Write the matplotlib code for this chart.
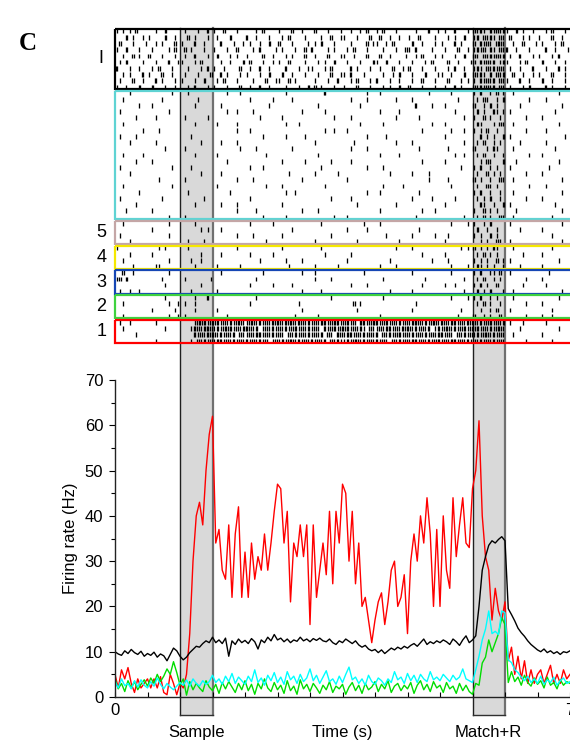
import numpy as np
import matplotlib
matplotlib.use('Agg')
import matplotlib.pyplot as plt
from matplotlib.patches import Rectangle
from matplotlib.lines import Line2D
from matplotlib.transforms import blended_transform_factory

plt.rcParams['font.family'] = ['Liberation Sans', 'DejaVu Sans']

# ---- firing rates (Hz), one value every 0.05 s from 0 to 7 s ----
dt = 0.05
rate_red = [5, 2, 6, 4, 6.5, 3, 1, 4, 2, 3,
            4, 2, 4, 2, 4.5, 1, 0.5, 5, 3, 0.5,
            3, 2, 5, 14, 30, 40, 43, 38, 50, 58,
            62, 34, 37, 28, 26, 38, 22, 36, 42, 22,
            32, 22, 34, 26, 31, 28, 36, 28, 34, 41,
            47, 46, 34, 41, 21, 34, 31, 38, 31, 38,
            16, 38, 22, 28, 34, 27, 41, 25, 41, 34,
            47, 45, 30, 41, 25, 34, 20, 22, 17, 12,
            17, 21, 23, 16, 21, 28, 30, 20, 22, 27,
            14, 30, 36, 30, 40, 34, 44, 36, 20, 37,
            20, 40, 28, 24, 44, 31, 38, 44, 34, 33,
            46, 50, 61, 40, 31, 28, 17, 24, 19, 17,
            21, 8, 11, 5, 9, 4, 8, 3, 6, 3,
            5, 6, 3, 5, 7, 3, 5, 3, 6, 4, 5]
rate_black = [10.0, 9.5, 9.2, 10.2, 9.6, 10.5, 9.8, 9.4, 10.1, 9.0,
              9.6, 9.2, 9.9, 8.8, 9.5, 9.1, 8.0, 9.4, 10.8, 10.2,
              9.0, 8.2, 8.8, 9.8, 10.5, 11.2, 11.0, 11.8, 12.4, 12.0,
              13.2, 12.0, 12.6, 11.8, 13.0, 9.0, 12.4, 11.6, 12.8, 12.0,
              12.5, 11.8, 12.9, 12.2, 10.6, 12.6, 12.0, 13.2, 12.4, 13.8,
              12.6, 13.0, 12.2, 12.8, 12.0, 12.6, 12.3, 13.2, 12.4, 12.8,
              12.2, 12.9, 12.5, 13.0, 12.4, 12.2, 12.8, 12.0, 11.6, 12.4,
              12.0, 12.8, 12.3, 11.8, 12.4, 11.5, 11.0, 11.4, 10.6, 10.2,
              10.5, 9.8, 10.4, 9.6, 10.2, 10.8, 10.4, 11.0, 10.6, 11.2,
              10.8, 11.4, 11.8, 11.2, 12.0, 12.8, 11.6, 12.2, 11.8, 12.4,
              12.0, 12.6, 12.2, 11.6, 12.8, 12.2, 11.4, 12.6, 13.5, 12.0,
              12.6, 13.5, 20.0, 28.0, 31.0, 33.5, 34.5, 34.0, 34.8, 35.4,
              34.5, 19.5, 18.2, 16.8, 15.2, 14.2, 13.4, 12.4, 11.6, 11.0,
              10.4, 10.0, 10.6, 9.8, 10.2, 9.6, 10.0, 9.4, 10.0, 9.8, 10.2]
rate_cyan = [3.5, 2.0, 4.0, 2.5, 3.0, 1.8, 3.6, 2.2, 3.8, 2.6,
             2.0, 3.4, 2.4, 4.2, 2.8, 1.8, 3.0, 2.2, 1.6, 2.4,
             3.2, 2.6, 3.8, 2.4, 4.0, 3.0, 2.4, 3.6, 2.8, 3.4,
             4.8, 3.2, 4.0, 2.8, 4.6, 3.4, 5.2, 3.0, 4.4, 3.6,
             2.8, 4.6, 3.4, 6.0, 3.2, 4.2, 2.6, 4.8, 3.6, 5.4,
             3.2, 4.4, 2.8, 5.6, 3.8, 4.6, 3.0, 5.0, 3.4, 4.2,
             6.2, 3.6, 4.8, 3.0, 4.4, 5.8, 3.4, 4.0, 2.8, 4.6,
             3.2, 5.0, 6.6, 3.8, 4.4, 3.0, 4.0, 2.6, 4.8, 3.4,
             2.8, 4.2, 3.6, 2.6, 4.0, 3.2, 5.6, 3.8, 4.4, 3.0,
             5.2, 3.6, 4.8, 3.2, 5.0, 4.0, 3.4, 5.6, 3.8, 4.4,
             3.6, 5.0, 4.2, 3.4, 4.8, 3.8, 4.4, 6.2, 4.0, 3.6,
             3.2, 6.0, 9.0, 12.6, 15.0, 19.0, 14.0, 14.5, 13.8, 19.0,
             18.6, 8.2, 7.6, 6.0, 5.4, 4.4, 3.6, 4.6, 3.2, 4.0,
             3.0, 4.6, 2.8, 3.8, 3.2, 4.4, 2.6, 3.6, 4.2, 3.0, 3.4]
rate_green = [4.0, 1.8, 3.0, 1.2, 3.6, 2.0, 3.4, 1.6, 2.8, 3.8,
              2.4, 4.2, 3.0, 5.0, 3.4, 4.6, 6.2, 5.0, 7.8, 5.4,
              2.6, 4.0, 0.4, 3.4, 1.6, 3.0, 2.0, 1.2, 3.6, 2.2,
              1.4, 2.8, 0.8, 3.2, 1.8, 3.4, 2.2, 1.0, 3.0, 1.6,
              3.6, 1.4, 2.8, 0.6, 3.0, 1.8, 4.0, 2.0, 1.2, 3.2,
              1.6, 2.6, 0.8, 3.6, 1.4, 2.4, 0.6, 3.8, 1.8, 2.8,
              1.2, 3.0, 2.0, 0.8, 2.6, 1.6, 3.4, 1.0, 2.4, 1.8,
              2.8, 0.6, 2.2, 3.2, 1.4, 2.6, 0.8, 3.0, 1.6, 2.2,
              3.4, 1.2, 2.8, 1.8, 3.6, 1.0, 2.4, 3.0, 1.4, 2.6,
              1.8, 3.2, 0.8, 2.6, 3.6, 1.6, 2.8, 1.2, 3.4, 2.0,
              2.6, 1.0, 3.2, 1.8, 2.4, 0.8, 3.0, 1.4, 2.6, 1.2,
              0.6, 3.0, 2.6, 7.5, 8.8, 12.6, 10.0, 12.0, 14.0, 17.5,
              16.0, 3.2, 5.6, 3.4, 4.4, 2.6, 4.8, 3.2, 2.4, 4.2,
              2.8, 3.6, 2.0, 4.4, 2.6, 3.2, 1.8, 3.8, 2.6, 3.4, 3.0]

# ---- raster: one string per trial, one char per 0.05 s bin (spike count) ----
raster_I = [
    "1.1.1.2... ..1..2.... .1...1..2. 1..2...1.. ...1.2.... 1...2..1.. .2...1...1 ..1..1.2.. 1.2...1... ..1...2..1 .1..2...1. 2121.21212 1..2.1..1. ..1.2...1.",
    "...2.1..1. 1....2..1. ..2.1...1. .1...2.... 2..1...1.. .1.2....1. ...1..2..1 1...1...2. .2..1..1.. 1..2....1. ..1.1..2.. 12.2121.21 .2...1.1.. 1...2..1..",
    ".2...1...1 ..1.1...2. 1...2..1.. ..2...1..1 .1..1..2.. 2...1....1 .1.2...1.. ..1....2.1 1..1.2.... .2..1...1. 1...2.1... 2.2121.221 ..1..2...1 .1...1.2..",
    "1..2...1.. .1....1.2. .2.1...1.. 1...1..2.. ..1.2....1 .1...1..2. 2....1.1.. .1.2...1.. ..1...1..2 1.2....1.. .1...2..1. 1212.21.21 2..1...1.. ..2..1...1",
    "..1..2.1.. 2...1...1. .1..2...1. .2...1.1.. 1....2..1. ..1.1...2. .1...2...1 1..1...2.. .2..1....1 ..1.2...1. 1...1..2.. 21.2121212 .1..2...1. 1...1.2...",
    ".1.2....1. ..1...2..1 1...1.2... ..1..1...2 .2...1..1. 1..2....1. ..1.1..2.. .1...1...2 1..2...1.. .1...1.2.. ..2..1...1 2.21212.12 1...1.2... .2...1..1.",
    "2...1..1.. .1.2...1.. ..1...1.2. 1..1....2. .1..2..1.. ..2...1..1 1...1.2... ..2.1...1. .1...2..1. 2...1...1. ..1.2..1.. 121.212121 .1..1...2. ..1...2.1.",
    "..1.1...2. 1...2..1.. .1...1...2 ..2.1...1. 1...1..2.. .2..1...1. ..1...2..1 1.2...1... ..1..1.2.. .1...2...1 1..1...2.. 2121.2.212 ..2..1..1. 1...2...1.",
    ".1...2..1. ..2.1...1. 1...1..2.. .1.2...1.. ..1...2..1 1..2.1.... .1...1..2. ..1.2...1. 2...1..1.. .1..2...1. ..2...1.1. 1.21212.21 1...2..1.. .2..1...1.",
    "1..1...2.. .2...1..1. ..1.2...1. 1...1...2. .1..2..1.. ..1...1..2 .2.1...1.. 1...2...1. ..1.1..2.. 2...1...1. .1..2.1... 2121212.21 .1...1.2.. ..2.1...1.",
]
raster_cyan = [
    "....1..... .......1.. ..1....... ....1...1. .......... ..1....... ....2..... .......1.. .1........ ......1... ...1...... 1.2..1.2.1 ..1....... ......1...",
    "..1....... ....1..... .....1.... .......... .1......1. ....1..... .......... ..1....1.. ......1... .1........ .....1.... .1.21..1.2 .......1.. ..1.......",
    ".......1.. .1........ ....1..... ..1....... .......1.. .......... ..1....... .....1.... .......... ..2....1.. .1........ 2..1.2.1.. ....1..... .......1..",
    ".1........ ......1... .......... ....1..1.. ..1....... .......1.. ....1..... .......... .1.....1.. .......... ....1..... .2.1..21.1 .1........ .....1....",
    "......1... ..1....... .1......1. .......... ....1..... .1........ .......1.. ..1....... ......1... ...1...... .......1.. 1..2.1..1. ......1... .1........",
    "..1....... .......... ....1..... .1.....1.. .......... ..1...1... .......... .....1.... ..1....... .......1.. .1........ .21...1.21 ..1....... ......1...",
    "........1. ...1...... .......... .......1.. .1........ .......... ....1..1.. .1........ .......... ....1..... ...1...1.. 1.1.2..1.. ......1... ..1.......",
    ".1....1... .......... ...1...... .......... .....1.... ..1.....1. .......... .......1.. ...1...... .......... .1........ ..2.1.1..2 .1........ ........1.",
    "....1..... ..1....... ......1... ..1....1.. .......... .......... .1........ ...1...... ......1... .1........ .......1.. .1.2..1.1. ....1..... ..1.......",
    ".......... .....1.... .1........ ........1. ...1...... ....1..... .......... ..1....1.. .......... ...1...... ..1....... 2...1.21.. ..1....... .....1....",
    "..1.....1. .......... ....1..... .1........ ......1... .......... ..1....... .......... .1.....1.. .......... ....1..1.. .1.2..1..1 .......1.. .1........",
    "......1... .1........ .......... ....1..... .......... .1......1. ......1... ..1....... .......... ....1..... .1........ ..1.21...2 ...1...... ......1...",
    ".1........ .......1.. ...1...... .......... .1...1.... .......... ...1...... .......1.. ..1....... .......... ......1... 1.2..1.1.. .1........ ...1......",
    "....1..... .......... ......1... ..1....... .......... ...1...... .1......1. .......... ....1..... .1....1... .......... .1..2.1.1. ......1... .1........",
    ".......... ...1...... .1........ .......1.. ..1....... .......1.. .......... .1........ .......... ......1... ..1....... 2.1..1..21 ..1....... .......1..",
    "..1....... .......1.. .......... .1........ ......1... .1........ ....1..... .......... ..1.....1. .......... ...1...... .1..21.1.. .......1.. ..1.......",
    ".......1.. .......... ..1....... .....1.... .......... ..1..1.... .......... .......1.. .1........ ...1...... .......... 1.2..1..1. ..1....... .......1..",
    ".1........ ....1..... .......1.. .......... .1........ .......... ......1... ..1....... .......... .1.....1.. ....1..... .1.1.2..1. ......1... .1........",
    "......1... .......... ....1..... ..1....1.. .......... .1........ .......... ....1..... ......1... .......... .1........ ..21..1..2 .1........ .....1....",
    "...1...... .1........ .......... .......1.. ...1...... .......1.. ..1....... .......... .1........ ....1...1. .......... 1..2.1.1.. ...1...... .......1..",
    ".......... ......1... .1........ .......... .....1.... ..1....... .......1.. .1........ .......... ..1....... .......1.. .1.2.1..21 ..1....... ....1.....",
]
raster_5 = [
    "..1....... ......1... ....1..... .......... .1......1. .......... ...1...... ......1... .1........ .......... ...1....1. 1..1.2.... .1........ .......1..",
    ".......... .1........ ......1.1. ..1....... .......... ....1..... .......... .1.....1.. .......... ...1...... .......... .2..1..1.. ....1..... .1........",
    ".1........ ......1... .......... .......1.. ..1....... .1........ ......1... .......... ...1...... .1......1. ..1....... 1.1..2.1.. .......... ....1.....",
    "....1..... .......... ..1....1.. .......... ......1... .......... .1........ ....1..... .......1.. .......... .1........ ..1.1..21. .1........ .......1..",
]
raster_4 = [
    "1......... ...1.1.... ..1....... .......1.. .......... .1........ ...1...... .......... ......1... .1........ ......1.1. 2.1.1.21.. ..1....... ....1.....",
    "....1..... .1........ ......1... ..1....... .1......1. .......... ....1..... ..1....... .......... ....1..... .1........ .1.2.1.1.. .....1.... .1........",
    "..1....... ......1... ...1..1... .......... ....1..... ..1....1.. .......... .1........ ....1..... .......1.. ..1....... 1.1.1..2.1 .1........ ......1...",
    ".....1.... ..11...... ....1..... .1......1. .......... ...1...... .1......1. .......... .1....1... .......... ...1....1. .21.1.1..1 ....1..... .1........",
]
raster_3 = [
    "..2..1.... ......1... .......... ..1....... .....1.... .......1.. .1........ ......1... .......... .1........ ...1...... 1.2..11.2. .1........ ...1......",
    "12.2...... ....1..... .1.......1 .......... ...1...... .......... .1....1... .......... ..1....... .....1.... .......1.. .1.2..1.1. ......1... .1........",
    ".......... .....1.... ......1... .......... .1......1. ....1..... .......... ..1....1.. .......... ....1..... .1..1..... 1.2.1..2.. .....1.... ..1.......",
    ".1..1..1.. .......... ...1...... .1........ .......... .......1.. ...1...... .......... ....1..... .1........ .......1.. .2.1.2...1 ..1....... .......1..",
]
raster_2 = [
    ".......... .....1.... ....1...2. .......... ...1...... .......... ......1... .......... ..1....... .......... ...1....1. 1.2..1.1.. ..1....... ......1...",
    "..1....... ......1..1 .1..1..... .......... .1........ ......1... .......... ...2.1.... .......... ..1....... .......... .1.2.1..1. ......1... .1........",
    ".......... .1......1. ....1..... .1........ .......... .......1.. .......... ....1..... .......... .1........ ......1... ..1..1.2.. .1........ ....1.....",
    "..1....... ......1..1 .1........ ....1..... .......... .....1.... ..1....... .......... .1........ .......... .....1.... 2..1.1..2. ......1... .1..1.....",
]
raster_1 = [
    ".1..1..... ..1....... ....122212 2212121221 1221212122 2122212212 1212212221 2212.22122 2122121212 1222121221 2212212122 2121221212 .1...1.... ..1.......",
    "..1....... .....1.... ...1221222 1212221212 2212.12121 2121221212 121.212212 2212121.21 1212212122 2121212.12 1221212212 2212121221 ....1..... ......1...",
    "......1... .......... ....212122 2121212.21 1212212121 21.2121212 1212.21.22 1221212121 2.21212212 1212121212 2121.21212 1212212121 ..1....... .1........",
    ".......... ..1....... ...1.21212 1221212121 2121212.12 1212212121 21212.2121 1212212121 2121.21212 1221212122 1212212121 2121212121 ......1... ....1.....",
]

group_rows = [raster_I, raster_cyan, raster_5, raster_4, raster_3, raster_2, raster_1]
group_labels = ['I', '', '5', '4', '3', '2', '1']
group_colors = ['black', '#5fd3d3', '#c4a6a6', '#f5e800', '#1646b4', '#3fd23f', '#ff0000']

epochs = [(1.0, 1.5), (5.5, 6.0)]
epoch_labels = ['Sample', 'Match+R']

W, H = 570, 746
fig = plt.figure(figsize=(W / 100, H / 100), dpi=100)


def px_axes(x0, y0, x1, y1):
    return fig.add_axes([x0 / W, 1 - y1 / H, (x1 - x0) / W, (y1 - y0) / H])


ax_r = px_axes(115, 28, 570, 344)
ax_f = px_axes(115, 380, 570, 697)

# shaded task epochs spanning both panels
trans = blended_transform_factory(ax_f.transData, fig.transFigure)
y_top, y_bot = 1 - 28 / H, 1 - 715 / H
for a, b in epochs:
    fig.add_artist(Rectangle((a, y_bot), b - a, y_top - y_bot, transform=trans,
                             facecolor='#d9d9d9', edgecolor='none', zorder=-3))
    fig.add_artist(Line2D([a, a], [y_bot, y_top], transform=trans, color='#202020', lw=1.0, zorder=-2))
    fig.add_artist(Line2D([b, b], [y_bot, y_top], transform=trans, color='#707070', lw=1.6, zorder=-2))
    fig.add_artist(Line2D([a, b], [y_bot, y_bot], transform=trans, color='#303030', lw=1.0, zorder=-2))

# ---- raster ----
n_rows = sum(len(g) for g in group_rows)
ax_r.set_xlim(0, 7)
ax_r.set_ylim(n_rows, 0)
ax_r.axis('off')

row = 0
for rows, lab, col in zip(group_rows, group_labels, group_colors):
    start = row
    for s in rows:
        s = s.replace(' ', '')[:140].ljust(140, '.')
        times = []
        for b, ch in enumerate(s):
            if ch.isdigit() and ch != '0':
                n = int(ch)
                times += [b * dt + (k + 0.5) * dt / n for k in range(n)]
        ax_r.vlines(times, row + 0.12, row + 0.88, colors='black', lw=0.95)
        row += 1
    ax_r.add_patch(Rectangle((0, start + 0.12), 7.5, len(rows) - 0.24, fill=False,
                             edgecolor=col, lw=1.6, clip_on=False, zorder=3))
    if lab:
        ax_r.text(-0.21, (start + row) / 2, lab, ha='center', va='center',
                  fontsize=13, clip_on=False)

# ---- firing rates ----
t = np.arange(len(rate_red)) * dt
ax_f.set_facecolor('none')
ax_f.plot(t, rate_red, color='#ff0000', lw=1.0)
ax_f.plot(t, rate_green, color='#00dd00', lw=1.0)
ax_f.plot(t, rate_cyan, color='#00ffff', lw=1.0)
ax_f.plot(t, rate_black, color='black', lw=1.0)

ax_f.set_xlim(0, 7)
ax_f.set_ylim(0, 70)
ax_f.spines['top'].set_visible(False)
ax_f.spines['right'].set_visible(False)
for sp in ['left', 'bottom']:
    ax_f.spines[sp].set_linewidth(1.0)
    ax_f.spines[sp].set_color('#222222')

ax_f.set_yticks(np.arange(0, 71, 10))
ax_f.set_yticks(np.arange(5, 70, 10), minor=True)
ax_f.tick_params(axis='y', which='major', direction='out', length=4.5, width=0.8,
                 labelsize=12, pad=4)
ax_f.tick_params(axis='y', which='minor', direction='out', length=3, width=0.8)
xt = np.arange(0, 7.01, 0.5)
ax_f.set_xticks(xt)
ax_f.set_xticklabels(['0'] + [''] * (len(xt) - 2) + ['7'])
ax_f.tick_params(axis='x', direction='in', length=3.5, width=0.8, labelsize=12, pad=4)
ax_f.set_ylabel('Firing rate (Hz)', fontsize=12, labelpad=5)

lab_tr = ax_f.get_xaxis_transform()
ax_f.text(3.5, -0.113, 'Time (s)', transform=lab_tr, ha='center', va='center', fontsize=12)
for (a, b), lab in zip(epochs, epoch_labels):
    ax_f.text((a + b) / 2, -0.113, lab, transform=lab_tr, ha='center', va='center', fontsize=12)

fig.text(28 / W, 1 - 43 / H, 'C', family='Liberation Serif', fontweight='bold',
         fontsize=18, ha='center', va='center')

fig.savefig('out.png', dpi=100)
